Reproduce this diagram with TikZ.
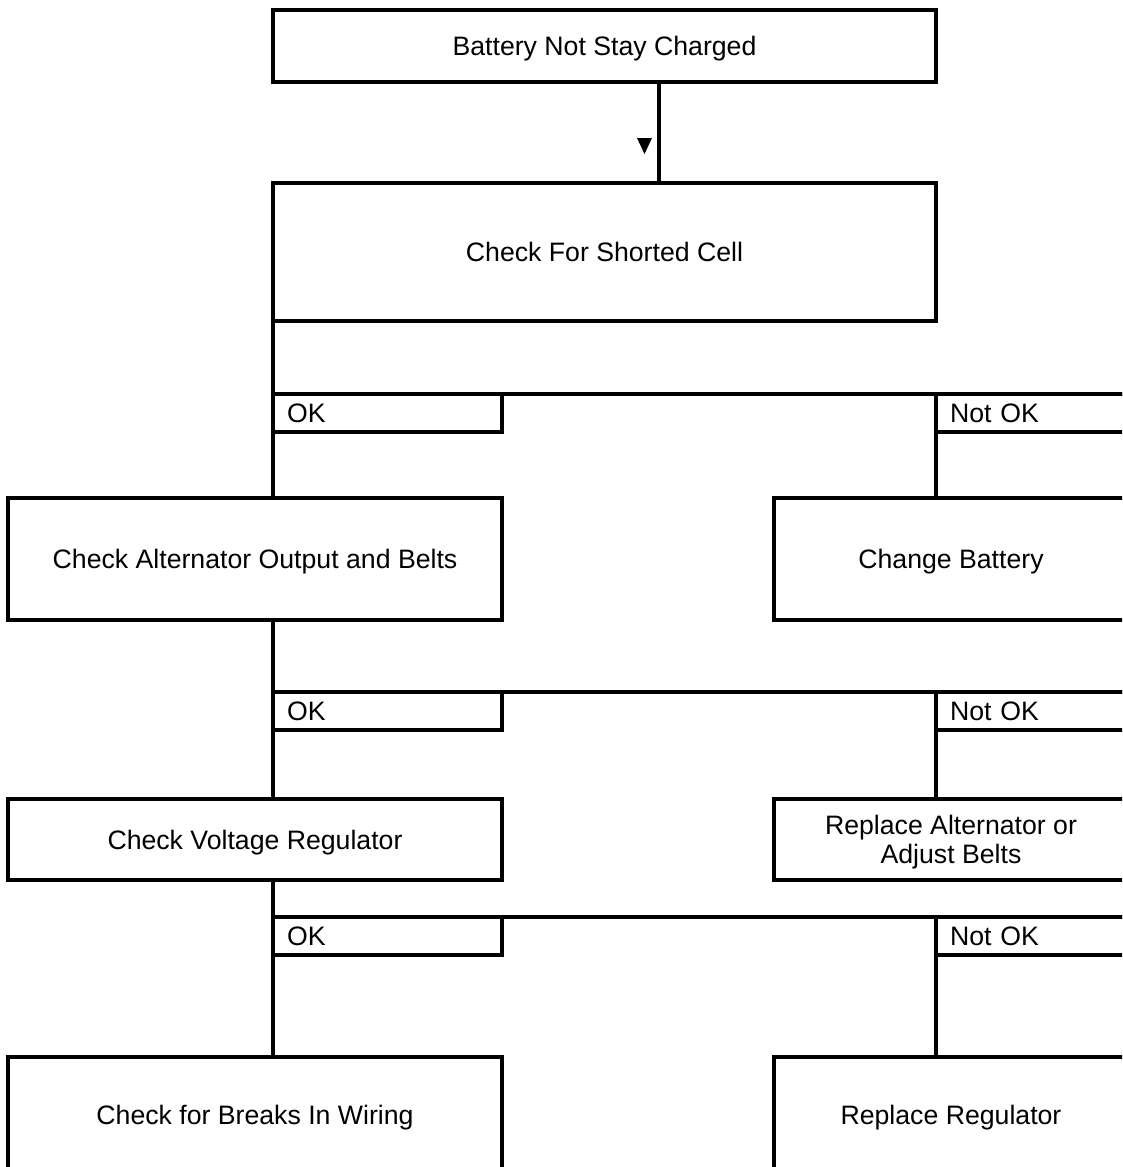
\documentclass[tikz,border=0pt]{standalone}
\usepackage{fontspec}
\setmainfont{Liberation Sans}
\newcommand\diafont{\fontsize{20}{21.5}\selectfont}
\begin{document}
\begin{tikzpicture}[x=0.75pt,y=-0.75pt,line width=2.3pt,
  box/.style={draw,rectangle,inner sep=0pt,outer sep=0pt,align=center,font=\diafont,text depth=0pt},
  lbl/.style={draw,rectangle,inner xsep=10.5pt,inner ysep=0pt,outer sep=0pt,text width=150.75pt,align=left,minimum height=28.5pt,font=\diafont,text depth=0pt}]
\useasboundingbox (0,0) rectangle (1122,1167);
\clip (0,0) rectangle (1122,1167);
\fill[white] (0,0) rectangle (1122,1167);
% main boxes
\node[box,minimum width=497.25pt,minimum height=54pt] (top) at (604.5,46) {Battery Not Stay Charged};
\node[box,minimum width=497.25pt,minimum height=103.5pt] (cell) at (604.5,252) {Check For Shorted Cell};
\node[box,minimum width=370.5pt,minimum height=91.5pt] (alt) at (255,559) {Check Alternator Output and Belts};
\node[box,minimum width=265.5pt,minimum height=91.5pt] (chg) at (951,559) {Change Battery};
\node[box,minimum width=370.5pt,minimum height=60.75pt] (vreg) at (255,839.5) {Check Voltage Regulator};
\node[box,minimum width=265.5pt,minimum height=60.75pt] (repalt) at (951,839.5) {Replace Alternator or\\Adjust Belts};
\node[box,minimum width=370.5pt,minimum height=87pt] (wire) at (255,1115) {Check for Breaks In Wiring};
\node[box,minimum width=265.5pt,minimum height=87pt] (repreg) at (951,1115) {Replace Regulator};
% OK / Not OK labels
\node[lbl] (ok1) at (387.5,413) {OK};
\node[lbl] (nok1) at (1050.5,413) {Not OK};
\node[lbl] (ok2) at (387.5,711) {OK};
\node[lbl] (nok2) at (1050.5,711) {Not OK};
\node[lbl] (ok3) at (387.5,936) {OK};
\node[lbl] (nok3) at (1050.5,936) {Not OK};
% connectors
\coordinate (c1) at (659,0);
\draw (top.south -| c1) -- (cell.north -| c1);
\fill (637,138) -- (652,138) -- (644.5,154) -- cycle;
\draw (cell.south west) -- (cell.south west |- alt.north);
\draw (ok1.north west) -- (nok1.north east);
\draw (nok1.north west) -- (nok1.north west |- chg.north);
\draw (ok1.north west |- alt.south) -- (ok1.north west |- vreg.north);
\draw (ok2.north west) -- (nok2.north east);
\draw (nok2.north west) -- (nok2.north west |- repalt.north);
\draw (ok1.north west |- vreg.south) -- (ok1.north west |- wire.north);
\draw (ok3.north west) -- (nok3.north east);
\draw (nok3.north west) -- (nok3.north west |- repreg.north);
\end{tikzpicture}
\end{document}
